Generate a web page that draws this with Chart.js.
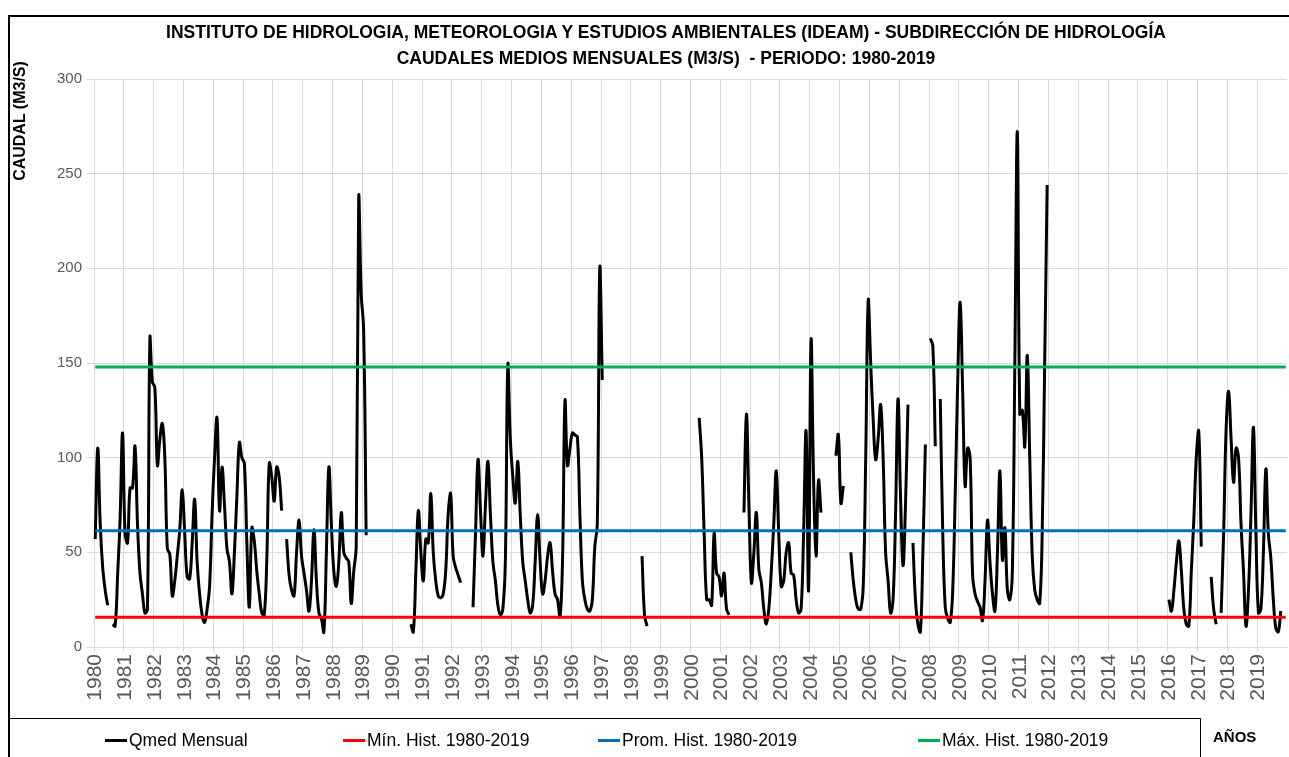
<!DOCTYPE html>
<html>
<head>
<meta charset="utf-8">
<script src="https://cdn.jsdelivr.net/npm/chart.js@4.4.0/dist/chart.umd.min.js"></script>
<style>
  html, body { margin: 0; padding: 0; background: #fff; }
  #wrap { position: relative; width: 1289px; height: 757px; overflow: hidden; font-family: "Liberation Sans", Arial, sans-serif; }
  #chart { position: absolute; left: 0; top: 0; }
  #frame { position: absolute; left: 8px; top: 15px; width: 1320px; height: 800px; border: 2px solid #000; box-sizing: border-box; }
  .title { position: absolute; left: 666px; transform: translateX(-50%); text-align: center; font-weight: bold; font-size: 17.5px; color: #000; white-space: nowrap; }
  #ytitle { position: absolute; left: 20px; top: 121px; transform: translate(-50%, -50%) rotate(-90deg); font-weight: bold; font-size: 16px; white-space: nowrap; }
  #legendBox { position: absolute; left: 8px; top: 718px; width: 1193px; height: 60px; border: 1px solid #000; box-sizing: border-box; }
  .item { position: absolute; top: 730px; height: 20px; line-height: 20px; font-size: 17.5px; color: #000; white-space: nowrap; }
  .swatch { position: absolute; top: 9px; left: 0; width: 22px; height: 3px; }
  #anos { position: absolute; left: 1213px; top: 728px; font-weight: bold; font-size: 15px; }
</style>
</head>
<body>
<div id="wrap">
  <canvas id="chart" width="1289" height="757"></canvas>
  <div id="frame"></div>
  <div class="title" style="top:22px">INSTITUTO DE HIDROLOGIA, METEOROLOGIA Y ESTUDIOS AMBIENTALES (IDEAM) - SUBDIRECCIÓN DE HIDROLOGÍA</div>
  <div class="title" style="top:48px">CAUDALES MEDIOS MENSUALES (M3/S)&nbsp; - PERIODO: 1980-2019</div>
  <div id="ytitle">CAUDAL (M3/S)</div>
  <div id="legendBox"></div>
  <div id="legend"></div>
  <div id="anos">AÑOS</div>
</div>
<script>
// tick labels
const years = ['1980','1981','1982','1983','1984','1985','1986','1987','1988','1989',
               '1990','1991','1992','1993','1994','1995','1996','1997','1998','1999',
               '2000','2001','2002','2003','2004','2005','2006','2007','2008','2009',
               '2010','2011','2012','2013','2014','2015','2016','2017','2018','2019'];
const yTicks = [0, 50, 100, 150, 200, 250, 300];

// monthly mean flow (m3/s), one row per year, null = no data
const q1980s = [
  57, 105, 65, 42, 30, 22, null, 12, 11, 38, 68, 113,
  60, 55, 84, 84, 106, 65, 39, 28, 18, 20, 163, 140,
  137, 96, 110, 118, 100, 52, 49, 27, 35, 48, 62, 83,
  60, 37, 36, 55, 78, 45, 28, 17, 13, 20, 32, 70,
  100, 121, 72, 95, 75, 52, 45, 28, 50, 80, 108, 100,
  97, 55, 21, 63, 56, 40, 28, 18, 17, 45, 97, 90,
  77, 95, 90, 72, null, 57, 38, 30, 27, 50, 67, 48,
  39, 30, 19, 35, 62, 35, 18, 15, 8, 50, 95, 65,
  40, 32, 45, 71, 50, 47, 45, 23, 40, 53, 237, 187,
  167, 59, null, null, null, null, null, null, null, null, null, null
];
const q1990s = [
  null, null, null, null, null, null, null, 12, 8, 40, 72, 50,
  35, 57, 55, 81, 50, 35, 27, 26, 28, 40, 70, 81,
  48, 42, 38, 34, null, null, null, null, 21, 60, 99, 72,
  48, 75, 98, 70, 45, 35, 22, 17, 20, 45, 149, 110,
  90, 76, 98, 70, 45, 35, 25, 18, 22, 45, 70, 45,
  28, 35, 48, 55, 40, 28, 25, 16, 45, 130, 96, 105,
  113, 112, 111, 70, 35, 25, 20, 19, 25, 53, 65, 200,
  141, null, null, null, null, null, null, null, null, null, null, null,
  null, null, null, null, 48, 17, 11, null, null, null, null, null,
  null, null, null, null, null, null, null, null, null, null, null, null
];
const q2000s = [
  null, null, null, 121, 100, 60, 25, 25, 22, 60, 39, 37,
  27, 39, 20, 17, null, null, null, null, null, 71, 123, 75,
  34, 50, 71, 41, 34, 20, 12, 20, 40, 65, 93, 60,
  32, 35, 50, 55, 39, 38, 25, 18, 20, 60, 114, 30,
  162, 90, 48, 88, 71, null, null, null, null, null, 101, 112,
  76, 85, null, null, 50, 35, 25, 20, 20, 32, 100, 183,
  150, 120, 99, 110, 128, 100, 50, 35, 18, 25, 70, 131,
  80, 43, 75, 128, null, 55, 25, 12, 8, 50, 107, null,
  163, 159, 106, null, 131, 60, 21, 15, 13, 30, 80, 140,
  182, 135, 85, 105, 100, 38, 28, 24, 21, 14, 35, 67
];
const q2010s = [
  45, 28, 19, 50, 93, 46, 63, 30, 25, 40, 150, 272,
  123, 125, 106, 154, 100, 48, 30, 25, 23, 60, 150, 244,
  null, null, null, null, null, null, null, null, null, null, null, null,
  null, null, null, null, null, null, null, null, null, null, null, null,
  null, null, null, null, null, null, null, null, null, null, null, null,
  null, null, null, null, null, null, null, null, null, null, null, null,
  25, 19, 30, 45, 56, 40, 20, 12, 11, 40, 67, 100,
  114, 53, null, null, null, 37, 20, 12, null, 18, 60, 115,
  135, 110, 87, 105, 100, 65, 40, 11, 30, 70, 116, 60,
  18, 20, 50, 94, 60, 47, 25, 10, 8, 19, null, null
];

// historical reference levels
const minHist = 15.7;
const promHist = 61.4;
const maxHist = 147.9;

const seriesNames = ['Qmed Mensual', 'Mín. Hist. 1980-2019', 'Prom. Hist. 1980-2019', 'Máx. Hist. 1980-2019'];
const seriesColors = ['#000000', '#ff0000', '#0070c0', '#00b050'];
const legendX = [105, 343, 598, 918];

const labels = [];
years.forEach(y => {
  for (let k = 1; k <= 12; k++) labels.push(y + '-' + String(k).padStart(2, '0'));
});
const qmed = [].concat(q1980s, q1990s, q2000s, q2010s);
const first = labels[0], last = labels[labels.length - 1];

function refLine(i, v) {
  return {
    label: seriesNames[i],
    data: [{ x: first, y: v }, { x: last, y: v }],
    borderColor: seriesColors[i],
    borderWidth: 3,
    pointRadius: 0,
    tension: 0,
    order: 0
  };
}

const tickFont = { family: '"Liberation Sans", Arial, sans-serif' };

new Chart(document.getElementById('chart'), {
  type: 'line',
  data: {
    labels: labels,
    datasets: [
      {
        label: seriesNames[0],
        data: qmed,
        borderColor: seriesColors[0],
        borderWidth: 3,
        pointRadius: 0,
        tension: 0.4,
        spanGaps: false,
        order: 1
      },
      refLine(1, minHist),
      refLine(2, promHist),
      refLine(3, maxHist)
    ]
  },
  options: {
    responsive: false,
    animation: false,
    layout: { padding: { top: 79, right: 2, left: 0, bottom: 0 } },
    plugins: { legend: { display: false }, tooltip: { enabled: false } },
    scales: {
      x: {
        type: 'category',
        offset: true,
        afterFit: s => { s.height = 110; s.paddingLeft = 0; s.paddingRight = 0; },
        grid: {
          offset: true,
          tickLength: 5,
          color: ctx => (ctx.index % 12 === 0 ? '#d9d9d9' : 'rgba(0,0,0,0)')
        },
        border: { color: '#d9d9d9' },
        ticks: {
          autoSkip: false,
          maxRotation: 90,
          minRotation: 90,
          padding: 2,
          color: '#595959',
          font: Object.assign({ size: 21 }, tickFont),
          callback: (val, i) => (i % 12 === 0 ? years[i / 12] : '')
        }
      },
      y: {
        min: yTicks[0],
        max: yTicks[yTicks.length - 1],
        afterFit: s => { s.width = 94; },
        afterBuildTicks: s => { s.ticks = yTicks.map(v => ({ value: v })); },
        grid: { color: '#d9d9d9', tickLength: 7 },
        border: { color: '#d9d9d9' },
        ticks: {
          padding: 5,
          color: '#595959',
          font: Object.assign({ size: 15 }, tickFont)
        }
      }
    }
  }
});

// legend
const lg = document.getElementById('legend');
seriesNames.forEach((name, i) => {
  const d = document.createElement('div');
  d.className = 'item';
  d.style.left = legendX[i] + 'px';
  d.style.paddingLeft = '24px';
  d.innerHTML = '<span class="swatch" style="background:' + seriesColors[i] + '"></span>' + name;
  lg.appendChild(d);
});
</script>
</body>
</html>
